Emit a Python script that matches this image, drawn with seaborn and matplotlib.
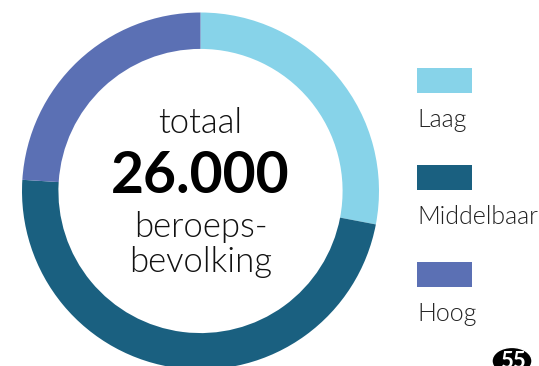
import matplotlib
matplotlib.use("Agg")
import matplotlib.pyplot as plt
from matplotlib.patches import Rectangle, Circle
import seaborn as sns

# data
categories = ["Laag", "Middelbaar", "Hoog"]
shares = [28, 48, 24]
colors = ["#87d3e9", "#1a6080", "#5b70b4"]
total_label = "26.000"
page_nr = "55"

sns.set_theme(style="white")
plt.rcParams['font.family'] = ['Lato', 'DejaVu Sans']

fig = plt.figure(figsize=(5.39, 3.66), dpi=100)
W, H = 539, 366

# donut, centre (200.5, 191) px, radius 178.5 px
cx, cy, r = 200.5, 191, 178.5
ax = fig.add_axes([(cx - r) / W, (H - cy - r) / H, 2 * r / W, 2 * r / H])
ax.pie(shares, colors=colors, startangle=90, counterclock=False,
       wedgeprops=dict(width=0.204, edgecolor="none"))
ax.set_xlim(-1, 1)
ax.set_ylim(-1, 1)
ax.set_aspect("equal")
ax.axis("off")

ax.text(0, 0.325, "totaal", ha="center", va="baseline", fontsize=25,
        fontweight=300, color="#111111")
ax.text(0, -0.011, total_label, ha="center", va="baseline", fontsize=41,
        fontweight="bold", color="black")
ax.text(0, -0.258, "beroeps-", ha="center", va="baseline", fontsize=25,
        fontweight=300, color="#111111")
ax.text(0, -0.454, "bevolking", ha="center", va="baseline", fontsize=25,
        fontweight=300, color="#111111")

# legend: swatch above label
top_px = [68, 165, 262]
for lab, col, t in zip(categories, colors, top_px):
    fig.patches.append(Rectangle((417 / W, (H - t - 25) / H), 55 / W, 25 / H,
                                 transform=fig.transFigure, facecolor=col,
                                 edgecolor="none"))
    fig.text(417 / W, (H - t - 59) / H, lab, ha="left", va="baseline",
             fontsize=18, fontweight=300, color="#222222")

# page number badge
fig.patches.append(Circle((512 / W, (H - 361) / H), 20 / W,
                          transform=fig.transFigure, facecolor="black"))
fig.text(513 / W, (H - 368) / H, page_nr, ha="center", va="baseline",
         fontsize=16, fontweight="bold", color="white")

fig.savefig("out.png", dpi=100)
